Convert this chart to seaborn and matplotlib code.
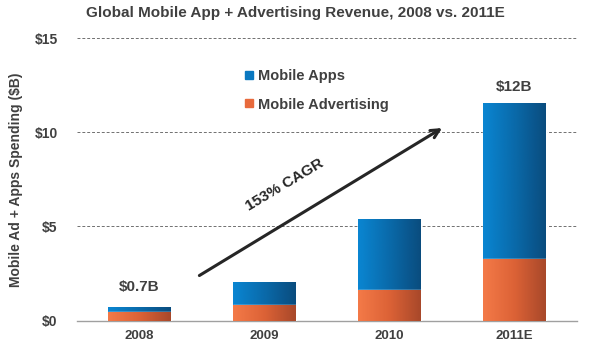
import numpy as np
import pandas as pd
import matplotlib
matplotlib.use("Agg")
import matplotlib.pyplot as plt
import seaborn as sns
from matplotlib.colors import LinearSegmentedColormap
from matplotlib.lines import Line2D

years = ["2008", "2009", "2010", "2011E"]
mobile_ads = [0.46, 0.82, 1.63, 3.30]
mobile_apps = [0.27, 1.22, 3.78, 8.26]
yticks = [0, 5, 10, 15]
ytick_labels = ["$0", "$5", "$10", "$15"]

sns.set_style("white")
plt.rcParams['font.family'] = ['Liberation Sans', 'DejaVu Sans']
txt = "#404040"

df = pd.DataFrame({"year": years, "ads": mobile_ads, "apps": mobile_apps})
df["total"] = df["ads"] + df["apps"]

fig = plt.figure(figsize=(5.9, 3.49), dpi=100)
ax = fig.add_axes([77/590, 1-320.7/349, 500/590, (320.7-38)/349])

sns.barplot(data=df, x="year", y="total", color="#0a78c0", width=0.5, ax=ax, saturation=1, zorder=3)
sns.barplot(data=df, x="year", y="ads", color="#e86a3c", width=0.5, ax=ax, saturation=1, zorder=4)

blue_cmap = LinearSegmentedColormap.from_list("b", ["#0a86d2", "#0a6aaa", "#0a4c7e"])
orange_cmap = LinearSegmentedColormap.from_list("o", ["#f47a48", "#dc6236", "#a8482a"])
grad = np.linspace(0, 1, 256).reshape(1, -1)
n = len(years)
for i, p in enumerate(ax.patches):
    cmap = blue_cmap if i < n else orange_cmap
    x0, y0 = p.get_x(), p.get_y()
    w, h = p.get_width(), p.get_height()
    im = ax.imshow(grad, cmap=cmap, aspect="auto", extent=[x0, x0 + w, y0, y0 + h],
                   zorder=p.get_zorder() + 0.1, interpolation="bicubic")
    im.set_clip_path(p)

ax.set_xlim(-0.5, 3.5)
ax.set_ylim(0, 15)
ax.set_yticks(yticks)
ax.set_yticklabels(ytick_labels)
for y in yticks[1:]:
    ax.axhline(y, color="#707070", lw=0.7, ls=(0, (3, 2)), zorder=1)

for s in ["top", "right", "left"]:
    ax.spines[s].set_visible(False)
ax.spines["bottom"].set_color("#a0a0a0")
ax.spines["bottom"].set_linewidth(1)
ax.tick_params(axis="x", length=0, pad=7, labelsize=9.5, labelcolor=txt)
ax.tick_params(axis="y", length=0, pad=14, labelsize=10, labelcolor=txt)
for lab in ax.get_xticklabels() + ax.get_yticklabels():
    lab.set_fontweight("bold")
ax.set_xticks([-0.5, 0.5, 1.5, 2.5, 3.5], minor=True)
ax.tick_params(axis="x", which="minor", length=4, color="#a0a0a0", direction="out")
ax.set_xlabel("")
ax.set_ylabel("Mobile Ad + Apps Spending ($B)", fontsize=10, fontweight="bold", color=txt, labelpad=8)

fig.text(0.5, 1 - 13.5/349, "Global Mobile App + Advertising Revenue, 2008 vs. 2011E", ha="center", va="center",
         fontsize=11, fontweight="bold", color=txt)

ax.text(0, 1.77, "$0.7B", ha="center", va="center", fontsize=11, fontweight="bold", color=txt)
ax.text(3, 12.4, "$12B", ha="center", va="center", fontsize=11, fontweight="bold", color=txt)

ax.annotate("", xy=(2.44, 10.3), xytext=(0.46, 2.32),
            arrowprops=dict(arrowstyle="->,head_length=0.6,head_width=0.3", lw=2.2, color="#262626"), zorder=6)
ax.text(1.16, 7.2, "153% CAGR", rotation=31, ha="center", va="center", fontsize=11,
        fontweight="bold", color="#262626", rotation_mode="anchor")

handles = [Line2D([], [], marker="s", ls="", color="#0a78c0", markersize=6),
           Line2D([], [], marker="s", ls="", color="#e86a3c", markersize=6)]
leg = ax.legend(handles, ["Mobile Apps", "Mobile Advertising"], loc="upper left",
                bbox_to_anchor=(243/590, 1 - 69/349), bbox_transform=fig.transFigure,
                frameon=False, handlelength=0.8, handletextpad=0.25, labelspacing=1.0,
                borderpad=0, borderaxespad=0, prop={"weight": "bold", "size": 10.5})
for t in leg.get_texts():
    t.set_color(txt)

fig.savefig("out.png", dpi=100)
